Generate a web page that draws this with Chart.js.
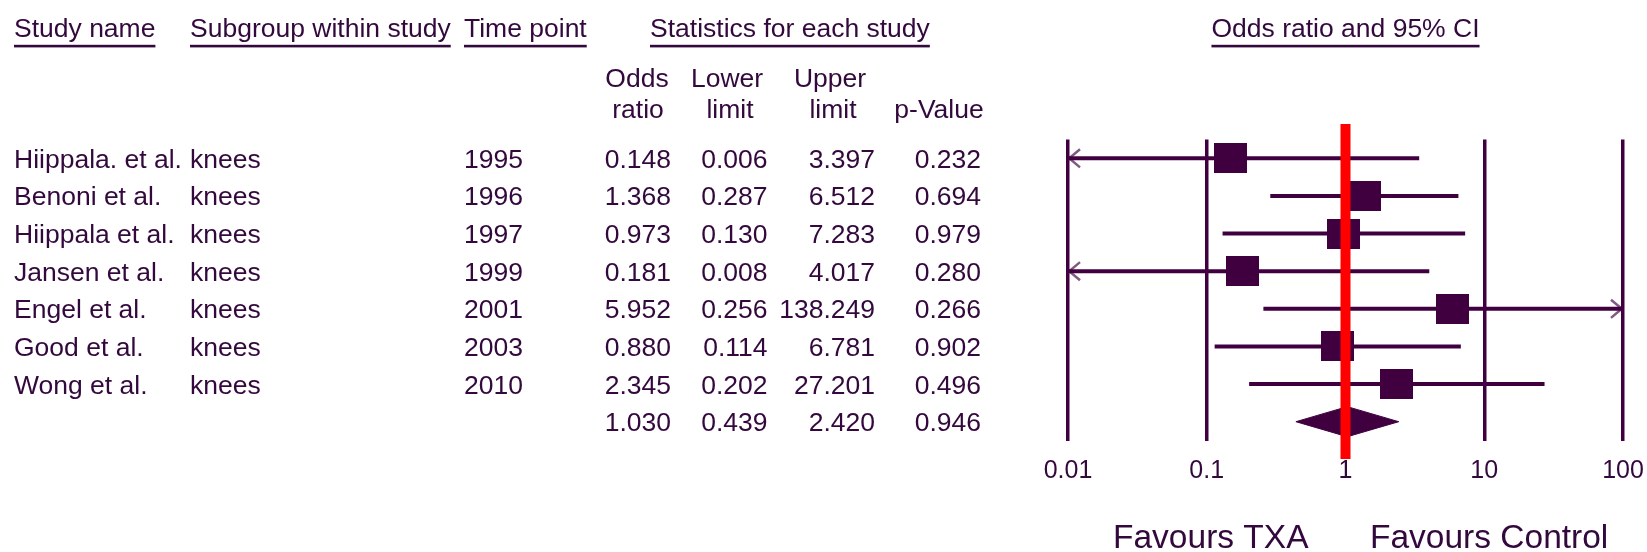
<!DOCTYPE html>
<html>
<head>
<meta charset="utf-8">
<script src="https://cdn.jsdelivr.net/npm/chart.js@4/dist/chart.umd.min.js"></script>
<style>
body { margin: 0; background: #fff; }
#wrap { width: 1647px; height: 552px; }
</style>
</head>
<body>
<div id="wrap"><canvas id="myChart" width="1647" height="552"></canvas></div>
<script>
var studyNames = ["Hiippala. et al.", "Benoni et al.", "Hiippala et al.", "Jansen et al.", "Engel et al.", "Good et al.", "Wong et al."];
var subgroups = ["knees", "knees", "knees", "knees", "knees", "knees", "knees"];
var timePoints = ["1995", "1996", "1997", "1999", "2001", "2003", "2010"];
var oddsRatios = [0.148, 1.368, 0.973, 0.181, 5.952, 0.880, 2.345];
var lowerLimits = [0.006, 0.287, 0.130, 0.008, 0.256, 0.114, 0.202];
var upperLimits = [3.397, 6.512, 7.283, 4.017, 138.249, 6.781, 27.201];
var pValues = [0.232, 0.694, 0.979, 0.280, 0.266, 0.902, 0.496];
var pooledOR = 1.030, pooledLower = 0.439, pooledUpper = 2.420, pooledP = 0.946;
var axisTicks = [0.01, 0.1, 1, 10, 100];
var axisMin = 0.01, axisMax = 100;

var lineColor = '#400040';
var textColor = '#33083d';
var font = '"Liberation Sans", Arial, sans-serif';

// box used as the point marker
var box = document.createElement('canvas');
box.width = 33; box.height = 30;
var bctx = box.getContext('2d');
bctx.fillStyle = lineColor;
bctx.fillRect(0, 0, 33, 30);

var datasets = [];
var nRows = studyNames.length;

// reference line at OR = 1
datasets.push({
    data: [{x: 1, y: -0.91}, {x: 1, y: nRows + 0.99}],
    showLine: true, borderColor: '#ff0000', borderWidth: 10,
    pointRadius: 0, clip: false, order: 0
});

// study boxes
datasets.push({
    data: oddsRatios.map((v, i) => ({x: v, y: i})),
    pointStyle: box, pointRadius: 16, clip: false, order: 1
});

// pooled diamond
datasets.push({
    data: [
        {x: pooledLower, y: nRows}, {x: pooledOR, y: nRows - 0.4},
        {x: pooledUpper, y: nRows}, {x: pooledOR, y: nRows + 0.4},
        {x: pooledLower, y: nRows}
    ],
    showLine: true, fill: 'shape', backgroundColor: lineColor,
    borderColor: lineColor, borderWidth: 1, pointRadius: 0, clip: false, order: 1
});

// confidence intervals, arrows where they leave the axis
var arrowDx = Math.pow(10, 12 / 138.7), arrowDy = 0.24;
for (let i = 0; i < nRows; i++) {
    let lo = Math.max(lowerLimits[i], axisMin);
    let hi = Math.min(upperLimits[i], axisMax);
    datasets.push({
        data: [{x: lo, y: i}, {x: hi, y: i}],
        showLine: true, borderColor: lineColor, borderWidth: 4,
        pointRadius: 0, clip: false, order: 2
    });
    if (lowerLimits[i] < axisMin) {
        datasets.push({
            data: [{x: axisMin * arrowDx, y: i - arrowDy}, {x: axisMin * 1.02, y: i}, {x: axisMin * arrowDx, y: i + arrowDy}],
            showLine: true, borderColor: 'rgba(64,0,64,0.65)', borderWidth: 2.5,
            pointRadius: 0, clip: false, order: 2
        });
    }
    if (upperLimits[i] > axisMax) {
        datasets.push({
            data: [{x: axisMax / arrowDx, y: i - arrowDy}, {x: axisMax / 1.02, y: i}, {x: axisMax / arrowDx, y: i + arrowDy}],
            showLine: true, borderColor: 'rgba(64,0,64,0.65)', borderWidth: 2.5,
            pointRadius: 0, clip: false, order: 2
        });
    }
}

function underlined(ctx, text, x, y, align) {
    ctx.textAlign = align;
    ctx.fillText(text, x, y);
    var w = ctx.measureText(text).width;
    var x0 = align === 'center' ? x - w / 2 : x;
    ctx.fillRect(x0, 44.8, w, 2.6);
}

const tablePlugin = {
    id: 'forestTable',
    afterDraw(chart) {
        const ctx = chart.ctx;
        const ys = chart.scales.y;
        const xs = chart.scales.x;
        ctx.save();
        ctx.fillStyle = textColor;
        ctx.textBaseline = 'alphabetic';
        ctx.font = '26.5px ' + font;

        // top headers
        underlined(ctx, 'Study name', 14, 36.7, 'left');
        underlined(ctx, 'Subgroup within study', 190, 36.7, 'left');
        underlined(ctx, 'Time point', 464, 36.7, 'left');
        underlined(ctx, 'Statistics for each study', 650, 36.7, 'left');
        underlined(ctx, 'Odds ratio and 95% CI', xs.getPixelForValue(1), 36.7, 'center');

        // sub headers
        ctx.textAlign = 'center';
        ctx.fillText('Odds', 637, 87.3);
        ctx.fillText('ratio', 638, 118);
        ctx.fillText('Lower', 727, 87.3);
        ctx.fillText('limit', 730, 118);
        ctx.fillText('Upper', 830, 87.3);
        ctx.fillText('limit', 833, 118);
        ctx.fillText('p-Value', 939, 118);

        // rows
        for (let i = 0; i <= nRows; i++) {
            let by = ys.getPixelForValue(i) + 9.5;
            let vals;
            if (i < nRows) {
                ctx.textAlign = 'left';
                ctx.fillText(studyNames[i], 14, by);
                ctx.fillText(subgroups[i], 190, by);
                ctx.fillText(timePoints[i], 464, by);
                vals = [oddsRatios[i], lowerLimits[i], upperLimits[i], pValues[i]];
            } else {
                vals = [pooledOR, pooledLower, pooledUpper, pooledP];
            }
            ctx.textAlign = 'right';
            ctx.fillText(vals[0].toFixed(3), 671, by);
            ctx.fillText(vals[1].toFixed(3), 767.5, by);
            ctx.fillText(vals[2].toFixed(3), 875, by);
            ctx.fillText(vals[3].toFixed(3), 981, by);
        }

        // favours labels
        const p1 = xs.getPixelForValue(1);
        ctx.font = '33.5px ' + font;
        ctx.textAlign = 'right';
        ctx.fillText('Favours TXA', p1 - 37, 548);
        ctx.textAlign = 'left';
        ctx.fillText('Favours Control', p1 + 24.5, 548);
        ctx.restore();
    }
};

var ctx = document.getElementById('myChart').getContext('2d');
var chart = new Chart(ctx, {
    type: 'scatter',
    data: { datasets: datasets },
    options: {
        responsive: false,
        animation: false,
        events: [],
        layout: { padding: { left: 1068, right: 24, top: 139.5, bottom: 0 } },
        plugins: { legend: { display: false }, tooltip: { enabled: false } },
        scales: {
            x: {
                type: 'logarithmic',
                min: axisMin,
                max: axisMax,
                afterBuildTicks: s => { s.ticks = axisTicks.map(v => ({value: v})); },
                afterFit: s => { s.height = 111.5; },
                ticks: {
                    callback: v => String(v),
                    font: { family: font, size: 25 },
                    color: textColor,
                    padding: 0,
                    maxRotation: 0,
                    autoSkip: false
                },
                // tick marks are invisible, they only push the labels down
                grid: { color: lineColor, lineWidth: 3.5, drawTicks: true, tickLength: 15.5, tickColor: 'rgba(0,0,0,0)' },
                border: { display: false }
            },
            y: {
                type: 'linear',
                min: -0.5,
                max: nRows + 0.5,
                reverse: true,
                display: false
            }
        }
    },
    plugins: [tablePlugin]
});
</script>
</body>
</html>
